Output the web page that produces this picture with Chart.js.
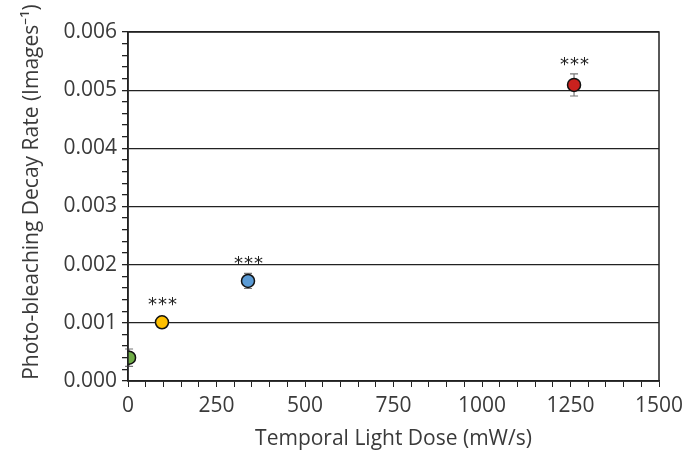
<!DOCTYPE html>
<html>
<head>
<meta charset="utf-8">
<script src="https://cdn.jsdelivr.net/npm/chart.js@4/dist/chart.umd.min.js"></script>
<style>
  html, body { margin: 0; padding: 0; background: #fff; }
  #wrap { width: 697px; height: 452px; position: relative; }
</style>
</head>
<body>
<div id="wrap"><canvas id="myChart"></canvas></div>
<script>
// light dose (mW/s) and decay rate per group
const doses = [3, 96, 339, 1260];
const rates = [0.00040, 0.00101, 0.00172, 0.00509];
const errors = [0.00015, 0.00003, 0.00013, 0.00019];
const pointColors = ["#70ad47", "#ffc000", "#5b9bd5", "#c9211e"];
const marks = ["", "***", "***", "***"];
const yTitle = "Photo-bleaching Decay Rate (Images\u207B\u00B9)";

const textColor = "#3a3a3a";
const fontFamily = "'Open Sans', sans-serif";

const isMajor = (v, step) => Math.abs(v / step - Math.round(v / step)) < 1e-6;

// error bars under the points, stars above them, frame round the plot
const errorBars = {
  id: "errorBars",
  beforeDatasetsDraw(chart) {
    const { ctx, scales: { x, y } } = chart;
    ctx.save();
    ctx.strokeStyle = "#777";
    ctx.lineWidth = 1.2;
    for (let i = 0; i < doses.length; i++) {
      const px = x.getPixelForValue(doses[i]);
      const top = y.getPixelForValue(rates[i] + errors[i]);
      const bot = y.getPixelForValue(rates[i] - errors[i]);
      ctx.beginPath();
      ctx.moveTo(px, top); ctx.lineTo(px, bot);
      ctx.moveTo(px - 4, top); ctx.lineTo(px + 4, top);
      ctx.moveTo(px - 4, bot); ctx.lineTo(px + 4, bot);
      ctx.stroke();
    }
    ctx.restore();
  },
  afterDatasetsDraw(chart) {
    const { ctx, scales: { x, y } } = chart;
    ctx.save();
    ctx.fillStyle = "#222";
    ctx.font = "18px 'DejaVu Sans', sans-serif";
    ctx.letterSpacing = "1px";
    ctx.textAlign = "center";
    ctx.textBaseline = "middle";
    for (let i = 0; i < doses.length; i++) {
      if (!marks[i]) continue;
      const px = x.getPixelForValue(doses[i]);
      const py = Math.min(y.getPixelForValue(rates[i] + errors[i]) - 12, y.getPixelForValue(rates[i]) - 20);
      ctx.fillText(marks[i], px + 1, py + 3);
    }
    ctx.restore();
  },
  afterDraw(chart) {
    const { ctx, chartArea: a } = chart;
    ctx.save();
    ctx.strokeStyle = "#222";
    ctx.lineWidth = 1.5;
    ctx.strokeRect(a.left, a.top, a.right - a.left, a.bottom - a.top);
    // y title, sits a little above the plot centre as in the original
    ctx.translate(32, 192);
    ctx.rotate(-Math.PI / 2);
    ctx.fillStyle = textColor;
    ctx.font = "21px " + fontFamily;
    ctx.textAlign = "center";
    ctx.textBaseline = "middle";
    ctx.fillText(yTitle, 0, 0);
    ctx.restore();
  },
};

const ctx = document.getElementById("myChart");
new Chart(ctx, {
  type: "scatter",
  data: {
    datasets: [
      {
        data: doses.map((d, i) => ({ x: d, y: rates[i] })),
        backgroundColor: pointColors,
        borderColor: "#111",
        borderWidth: 1.5,
        pointRadius: 6.5,
        pointHoverRadius: 6.5,
      },
    ],
  },
  options: {
    responsive: true,
    maintainAspectRatio: false,
    animation: false,
    layout: { padding: { top: 32, right: 38, left: 0, bottom: 0 } },
    plugins: { legend: { display: false }, tooltip: { enabled: false } },
    scales: {
      x: {
        type: "linear",
        min: 0,
        max: 1500,
        afterFit(scale) { scale.height = 71; },
        grid: { drawOnChartArea: false, tickColor: "#222", tickLength: 6 },
        border: { color: "#222", width: 1.5 },
        ticks: {
          stepSize: 50,
          autoSkip: false,
          maxRotation: 0,
          padding: 6,
          color: textColor,
          font: { family: fontFamily, size: 21 },
          callback: (v) => (isMajor(v, 250) ? String(v) : ""),
        },
        title: {
          display: true,
          text: "Temporal Light Dose (mW/s)",
          color: textColor,
          font: { family: fontFamily, size: 21 },
          padding: { top: 0, bottom: 0 },
        },
      },
      y: {
        min: 0,
        max: 0.006,
        afterFit(scale) { scale.width = 128; },
        grid: {
          color: (c) => (c.tick && isMajor(c.tick.value, 0.001) ? "#222" : "rgba(0,0,0,0)"),
          lineWidth: 1.3,
          tickColor: "#222",
          tickLength: 6,
        },
        border: { color: "#222", width: 1.5 },
        ticks: {
          stepSize: 0.0002,
          autoSkip: false,
          padding: 5,
          color: textColor,
          font: { family: fontFamily, size: 21 },
          callback: (v) => (isMajor(v, 0.001) ? v.toFixed(3) : ""),
        },
        title: { display: false },
      },
    },
  },
  plugins: [errorBars],
});
</script>
</body>
</html>
